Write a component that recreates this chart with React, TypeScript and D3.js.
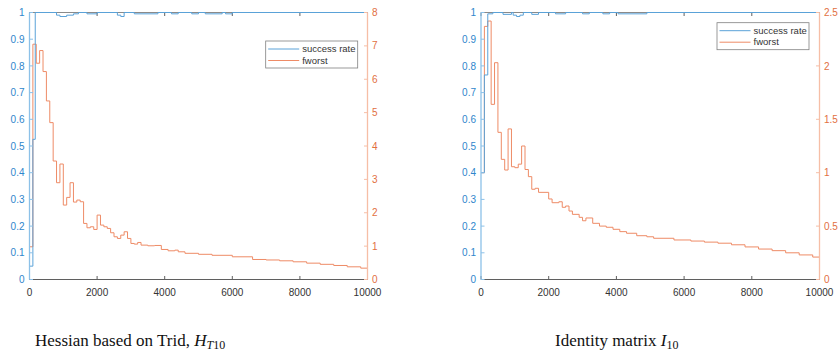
import React from 'react';
import * as d3 from 'd3';

const W = 838;
const H = 353;

// ---- tick labels ----
const xTicks = [0, 2000, 4000, 6000, 8000, 10000];
const successTicks = [0, 0.1, 0.2, 0.3, 0.4, 0.5, 0.6, 0.7, 0.8, 0.9, 1];
const tridFworstTicks = [0, 1, 2, 3, 4, 5, 6, 7, 8];
const identityFworstTicks = [0, 0.5, 1, 1.5, 2, 2.5];
const legendLabels = ['success rate', 'fworst'];

// ---- Hessian based on Trid ----
const tridSuccessIter = [0, 100, 170, 800, 900, 1100, 1300, 1450, 1700, 2000, 2600, 2700, 2800, 3100, 3800, 4200, 4400, 4800, 5000, 5200, 5700, 5800, 6000, 10000];
const tridSuccess = [0.05, 0.525, 1, 0.99, 0.985, 0.99, 0.995, 1, 0.995, 1, 0.99, 0.985, 1, 0.995, 1, 0.995, 1, 0.995, 1, 0.995, 1, 0.995, 1, 1];

const tridFworstIter = [0, 100, 200, 300, 400, 500, 600, 700, 800, 900, 1000, 1100, 1200, 1300, 1400, 1500, 1600, 1700, 1800, 1900, 2000, 2100, 2200, 2300, 2400, 2500, 2600, 2700, 2800, 2900, 3000, 3100, 3200, 3300, 3500, 3700, 3900, 4100, 4300, 4400, 4600, 5000, 5400, 6000, 6600, 7000, 7400, 7800, 8200, 8600, 9000, 9400, 9800, 10000];
const tridFworst = [0.98, 7.05, 6.48, 6.86, 6.23, 5.35, 4.7, 3.55, 2.9, 3.46, 2.23, 2.46, 2.9, 2.32, 2.38, 2.33, 1.68, 1.55, 1.58, 1.5, 1.93, 1.63, 1.58, 1.53, 1.4, 1.28, 1.23, 1.33, 1.43, 1.23, 1.08, 1.06, 1.11, 1.03, 1.01, 1.02, 0.9, 0.86, 0.88, 0.83, 0.785, 0.755, 0.725, 0.68, 0.6, 0.585, 0.56, 0.53, 0.49, 0.455, 0.42, 0.38, 0.34, 0.31];

// ---- Identity matrix ----
const identitySuccessIter = [0, 100, 200, 350, 650, 900, 950, 1050, 1150, 1250, 1500, 1700, 2200, 2500, 3000, 3200, 3600, 3800, 4050, 4900, 10000];
const identitySuccess = [0.4, 0.766, 0.995, 1, 0.993, 1, 0.99, 0.985, 0.99, 1, 0.993, 1, 0.995, 1, 0.995, 1, 0.995, 1, 0.995, 1, 1];

const identityFworstIter = [0, 100, 200, 300, 400, 500, 600, 700, 800, 900, 1000, 1100, 1200, 1300, 1400, 1500, 1600, 1700, 2000, 2100, 2300, 2400, 2500, 2600, 2700, 2900, 3000, 3100, 3300, 3500, 3700, 3900, 4100, 4300, 4600, 4900, 5100, 5700, 6200, 6600, 7000, 7400, 7800, 8200, 8600, 9000, 9400, 9800, 10000];
const identityFworst = [1.0, 2.37, 2.42, 1.64, 2.03, 1.378, 1.125, 1.025, 1.41, 1.056, 1.047, 1.08, 1.25, 1.03, 0.963, 0.845, 0.854, 0.816, 0.754, 0.719, 0.728, 0.676, 0.688, 0.641, 0.61, 0.582, 0.55, 0.576, 0.526, 0.5, 0.489, 0.47, 0.448, 0.433, 0.41, 0.4, 0.386, 0.37, 0.36, 0.35, 0.34, 0.325, 0.305, 0.285, 0.27, 0.25, 0.23, 0.21, 0.2];

const BLUE_TEXT = '#2f86cc';
const BLUE_AXIS = '#8cc1e8';
const BLUE_LINE = '#5aa2d8';
const ORANGE_TEXT = '#e2703f';
const ORANGE_AXIS = '#f6bea6';
const ORANGE_LINE = '#ee8b66';
const GRAY = '#5f5f5f';
const SANS = "'Liberation Sans', Arial, Helvetica, sans-serif";
const SERIF = "'Liberation Serif', 'Times New Roman', serif";

const TOP = 12.5;
const BOTTOM = 279.5;
const TICK = 3.5;

type PanelProps = {
  x0: number;
  x1: number;
  rightTicks: number[];
  successIter: number[];
  success: number[];
  fworstIter: number[];
  fworst: number[];
  legendX: number;
  legendY: number;
};

function Panel(p: PanelProps) {
  const x = d3.scaleLinear().domain([0, 10000]).range([p.x0, p.x1]);
  const yL = d3.scaleLinear().domain([0, 1]).range([BOTTOM, TOP]);
  const rMax = p.rightTicks[p.rightTicks.length - 1];
  const yR = d3.scaleLinear().domain([0, rMax]).range([BOTTOM, TOP]);

  const lineL = d3.line<[number, number]>().x(d => x(d[0])).y(d => yL(d[1])).curve(d3.curveStepAfter);
  const lineR = d3.line<[number, number]>().x(d => x(d[0])).y(d => yR(d[1])).curve(d3.curveStepAfter);
  const sData = p.successIter.map((v, i) => [v, p.success[i]] as [number, number]);
  const fData = p.fworstIter.map((v, i) => [v, p.fworst[i]] as [number, number]);

  const lw = 92;
  const lh = 27;
  return (
    <g>
      {/* top border */}
      <line x1={p.x0} x2={p.x1} y1={TOP} y2={TOP} stroke="#8a8a8a" strokeWidth={1} />
      {xTicks.map(t => (
        <line key={'tt' + t} x1={x(t)} x2={x(t)} y1={TOP} y2={TOP + TICK} stroke={GRAY} strokeWidth={1} />
      ))}
      {/* bottom axis */}
      <line x1={p.x0} x2={p.x1} y1={BOTTOM} y2={BOTTOM} stroke={GRAY} strokeWidth={1} />
      {xTicks.map(t => (
        <g key={'bt' + t}>
          <line x1={x(t)} x2={x(t)} y1={BOTTOM} y2={BOTTOM - TICK} stroke={GRAY} strokeWidth={1} />
          <text x={x(t)} y={BOTTOM + 16} textAnchor="middle" fontFamily={SANS} fontSize={10} fill="#333">{String(t)}</text>
        </g>
      ))}
      {/* series */}
      <path d={lineR(fData) || ''} fill="none" stroke={ORANGE_LINE} strokeWidth={1} />
      <path d={lineL(sData) || ''} fill="none" stroke={BLUE_LINE} strokeWidth={1} />
      {/* left axis */}
      <line x1={p.x0} x2={p.x0} y1={TOP} y2={BOTTOM} stroke={BLUE_AXIS} strokeWidth={1.3} />
      {successTicks.map(t => (
        <g key={'l' + t}>
          <line x1={p.x0} x2={p.x0 + TICK} y1={yL(t)} y2={yL(t)} stroke={BLUE_AXIS} strokeWidth={1} />
          <text x={p.x0 - 5} y={yL(t) + 3.6} textAnchor="end" fontFamily={SANS} fontSize={10} fill={BLUE_TEXT}>{String(t)}</text>
        </g>
      ))}
      {/* right axis */}
      <line x1={p.x1} x2={p.x1} y1={TOP} y2={BOTTOM} stroke={ORANGE_AXIS} strokeWidth={1.3} />
      {p.rightTicks.map(t => (
        <g key={'r' + t}>
          <line x1={p.x1} x2={p.x1 - TICK} y1={yR(t)} y2={yR(t)} stroke={ORANGE_AXIS} strokeWidth={1} />
          <text x={p.x1 + 4.5} y={yR(t) + 3.6} textAnchor="start" fontFamily={SANS} fontSize={10} fill={ORANGE_TEXT}>{String(t)}</text>
        </g>
      ))}
      {/* legend */}
      <g transform={`translate(${p.legendX},${p.legendY})`}>
        <rect x={0} y={0} width={lw} height={lh} fill="#fff" stroke="#808080" strokeWidth={0.8} />
        {legendLabels.map((lab, i) => (
          <g key={lab}>
            <line x1={2.5} x2={33.5} y1={8 + i * 11.5} y2={8 + i * 11.5} stroke={i === 0 ? BLUE_LINE : ORANGE_LINE} strokeWidth={1} />
            <text x={36.5} y={11.2 + i * 11.5} fontFamily={SANS} fontSize={9.5} fill="#333">{lab}</text>
          </g>
        ))}
      </g>
    </g>
  );
}

export default function App() {
  return (
    <svg width={W} height={H} viewBox={`0 0 ${W} ${H}`} style={{ position: 'absolute', left: 0, top: 0, background: '#fff' }}>
      <rect x={0} y={0} width={W} height={H} fill="#fff" />
      <Panel
        x0={29.5}
        x1={367.5}
        rightTicks={tridFworstTicks}
        successIter={tridSuccessIter}
        success={tridSuccess}
        fworstIter={tridFworstIter}
        fworst={tridFworst}
        legendX={265.7}
        legendY={41}
      />
      <Panel
        x0={481}
        x1={819.5}
        rightTicks={identityFworstTicks}
        successIter={identitySuccessIter}
        success={identitySuccess}
        fworstIter={identityFworstIter}
        fworst={identityFworst}
        legendX={717}
        legendY={22.7}
      />
      <text x={35} y={346} fontFamily={SERIF} fontSize={17} fill="#111">
        Hessian based on Trid, <tspan fontStyle="italic">H</tspan>
        <tspan fontSize={12} dy={3}><tspan fontStyle="italic">T</tspan>10</tspan>
      </text>
      <text x={555} y={346} fontFamily={SERIF} fontSize={17} fill="#111">
        Identity matrix <tspan fontStyle="italic">I</tspan>
        <tspan fontSize={12} dy={3}>10</tspan>
      </text>
    </svg>
  );
}
